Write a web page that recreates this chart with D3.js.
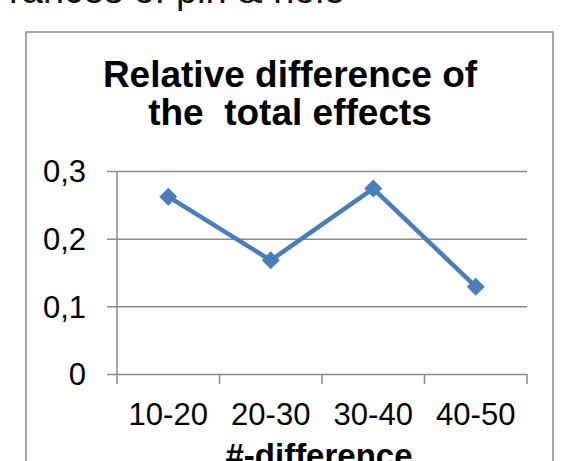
<!DOCTYPE html>
<html>
<head>
<meta charset="utf-8">
<script src="https://cdn.jsdelivr.net/npm/d3@7"></script>
<style>
    body { margin: 0; background: #fff; }
    svg { display: block; font-family: "Liberation Sans", Arial, Helvetica, sans-serif; }
    text { white-space: pre; }
</style>
</head>
<body>
<div id="chart"></div>
<script>

// categories and values
let categories = ["10-20", "20-30", "30-40", "40-50"];
let relDiff = [0.262, 0.168, 0.274, 0.129];
let yTicks = [0, 0.1, 0.2, 0.3];

let titleLines = ["Relative difference of", "the  total effects"];
let xTitle = "#-difference";
let cutText = "rances of pin & hole";

let svg = d3.select("#chart").append("svg")
    .attr("width", 567)
    .attr("height", 461);

// leftover caption from the page above, cut by the crop
svg.append("text")
    .attr("x", 345)
    .attr("y", 3)
    .attr("text-anchor", "end")
    .attr("font-size", 38)
    .attr("fill", "#111")
    .text(cutText);

// chart frame
svg.append("rect")
    .attr("x", 26)
    .attr("y", 32)
    .attr("width", 527)
    .attr("height", 460)
    .attr("fill", "#fff")
    .attr("stroke", "#8a8a8a")
    .attr("stroke-width", 1.5);

let margin = {top: 171, left: 117};
let width = 410, height = 203;

let g = svg.append("g")
    .attr("transform", "translate(" + margin.left + "," + margin.top + ")");

let x = d3.scaleBand()
    .domain(categories)
    .range([0, width]);

let y = d3.scaleLinear()
    .domain([0, 0.3])
    .range([height, 0]);

let fmt = d => d3.format(".1~f")(d).replace(".", ",");

// y axis with gridlines
let yAxis = g.append("g")
    .call(d3.axisLeft(y).tickValues(yTicks).tickSize(-width - 10).tickFormat(fmt).tickPadding(0));
yAxis.select(".domain").remove();
yAxis.selectAll(".tick line")
    .attr("x1", -10)
    .attr("x2", width)
    .attr("stroke", "#8a8a8a")
    .attr("stroke-width", 1.5);
yAxis.selectAll(".tick text")
    .attr("x", -31)
    .attr("dy", "0.35em")
    .attr("font-size", 31)
    .attr("fill", "#000");

// vertical axis line
g.append("line")
    .attr("x1", 0).attr("x2", 0)
    .attr("y1", 0).attr("y2", height)
    .attr("stroke", "#8a8a8a")
    .attr("stroke-width", 1.5);

// x axis: ticks between categories
let xAxis = g.append("g")
    .attr("transform", "translate(0," + height + ")")
    .call(d3.axisBottom(x).tickSize(0).tickPadding(0));
xAxis.select(".domain").remove();
xAxis.selectAll(".tick text")
    .attr("y", 51)
    .attr("dy", 0)
    .attr("font-size", 31)
    .attr("fill", "#000");

let bounds = categories.map(c => x(c)).concat([width]);
xAxis.selectAll(".bound")
    .data(bounds)
    .enter().append("line")
    .attr("class", "bound")
    .attr("x1", d => d).attr("x2", d => d)
    .attr("y1", 0).attr("y2", 10)
    .attr("stroke", "#8a8a8a")
    .attr("stroke-width", 1.5);

let data = categories.map((c, i) => ({cat: c, value: relDiff[i]}));

// series line
let line = d3.line()
    .x(d => x(d.cat) + x.bandwidth() / 2)
    .y(d => y(d.value));

g.append("path")
    .datum(data)
    .attr("d", line)
    .attr("fill", "none")
    .attr("stroke", "#4a7ebb")
    .attr("stroke-width", 4.5)
    .attr("stroke-linejoin", "round");

// diamond markers
g.selectAll(".marker")
    .data(data)
    .enter().append("path")
    .attr("class", "marker")
    .attr("transform", d => "translate(" + (x(d.cat) + x.bandwidth() / 2) + "," + y(d.value) + ")")
    .attr("d", "M0,-9L9,0L0,9L-9,0Z")
    .attr("fill", "#4a7ebb");

// title
svg.append("text")
    .attr("text-anchor", "middle")
    .attr("font-size", 37)
    .attr("font-weight", "bold")
    .selectAll("tspan")
    .data(titleLines)
    .enter().append("tspan")
    .attr("x", 290)
    .attr("y", (d, i) => 87 + i * 38)
    .text(d => d);

// x axis title (cut by the bottom of the picture)
svg.append("text")
    .attr("x", 319)
    .attr("y", 467)
    .attr("text-anchor", "middle")
    .attr("font-size", 33)
    .attr("font-weight", "bold")
    .text(xTitle);

</script>
</body>
</html>
